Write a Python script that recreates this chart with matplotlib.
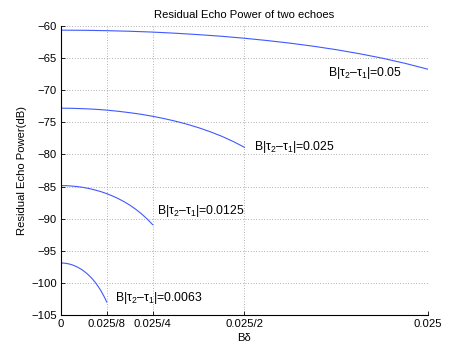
import matplotlib
matplotlib.use("Agg")
import matplotlib.pyplot as plt

plt.rcParams['font.family'] = ['Liberation Sans', 'DejaVu Sans']
plt.rcParams['mathtext.fontset'] = 'custom'
plt.rcParams['mathtext.rm'] = 'Liberation Sans'
plt.rcParams['mathtext.it'] = 'Liberation Sans'

# fraction of each curve's x-range where values were read
frac = [i / 16 for i in range(17)]
x_max = [0.025, 0.025 / 2, 0.025 / 4, 0.025 / 8]

# residual echo power (dB)
p_005 = [-60.65, -60.67, -60.73, -60.82, -60.95, -61.13, -61.35, -61.6, -61.91,
         -62.27, -62.68, -63.15, -63.69, -64.31, -65.01, -65.82, -66.74]
p_0025 = [-72.8, -72.82, -72.88, -72.97, -73.1, -73.28, -73.5, -73.75, -74.06,
          -74.42, -74.83, -75.3, -75.84, -76.46, -77.16, -77.97, -78.89]
p_00125 = [-84.85, -84.87, -84.93, -85.02, -85.15, -85.33, -85.55, -85.8, -86.11,
           -86.47, -86.88, -87.35, -87.89, -88.51, -89.21, -90.02, -90.94]
p_00063 = [-96.9, -96.92, -96.98, -97.07, -97.2, -97.38, -97.6, -97.85, -98.16,
           -98.52, -98.93, -99.4, -99.94, -100.56, -101.26, -102.07, -102.99]

labels = [r'B|τ$_2$–τ$_1$|=0.05', r'B|τ$_2$–τ$_1$|=0.025',
          r'B|τ$_2$–τ$_1$|=0.0125', r'B|τ$_2$–τ$_1$|=0.0063']
label_pos = [(0.01819, -67.3), (0.01317, -78.8), (0.00654, -88.8), (0.00368, -102.4)]

xticks = [0, 0.025 / 8, 0.025 / 4, 0.025 / 2, 0.025]
xticklabels = ['0', '0.025/8', '0.025/4', '0.025/2', '0.025']
yticks = list(range(-105, -59, 5))

fs = 8.1

fig = plt.figure(figsize=(4.72, 3.55), dpi=100)
ax = fig.add_axes([0.129, 0.1127, 0.778, 0.8141])

for xm, p in zip(x_max, [p_005, p_0025, p_00125, p_00063]):
    ax.plot([f * xm for f in frac], p, color=(0.25, 0.35, 1.0), lw=0.8)

for lab, (lx, ly) in zip(labels, label_pos):
    ax.text(lx, ly, lab, fontsize=8.8, va='center', ha='left')

ax.set_xlim(0, 0.025)
ax.set_ylim(-105, -60)
ax.set_xticks(xticks)
ax.set_xticklabels(xticklabels)
ax.set_yticks(yticks)
ax.set_yticklabels([str(v).replace('-', '\u2212') for v in yticks])
ax.tick_params(direction='in', length=3, width=0.6, labelsize=fs, pad=3)
ax.grid(True, linestyle=(0, (1, 2.2)), color='#999999', lw=0.6)
ax.spines['top'].set_visible(False)
ax.spines['right'].set_visible(False)
ax.spines['left'].set_linewidth(0.8)
ax.spines['bottom'].set_linewidth(0.8)

ax.set_title('Residual Echo Power of two echoes', fontsize=fs, pad=6)
ax.set_xlabel('Bδ', fontsize=fs, labelpad=3)
ax.set_ylabel('Residual Echo Power(dB)', fontsize=fs, labelpad=3)

fig.savefig('out.png', dpi=100)
